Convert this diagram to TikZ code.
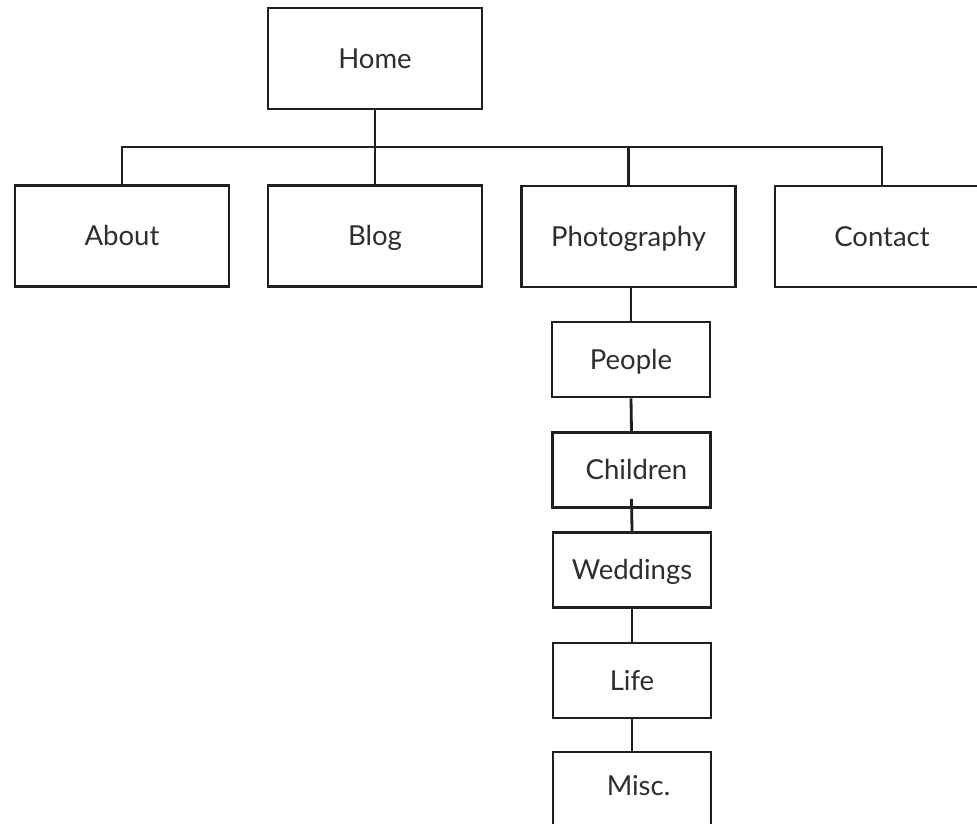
\documentclass[tikz,border=0pt]{standalone}
\usepackage{fontspec}
\setmainfont{Lato}
\begin{document}
\begin{tikzpicture}[x=1pt,y=-1pt,
  page/.style={draw=black!88,line width=2.8pt,fill=white,inner sep=0pt,
     text=black!82,font=\fontsize{27.5}{32}\selectfont,
     text height=19.5pt,text depth=0pt},
  bigbox/.style={page,minimum width=214pt,minimum height=101pt},
  subbox/.style={page,minimum width=158pt,minimum height=75pt},
  link/.style={draw=black!88,line width=2.8pt}]
\useasboundingbox (0,0) rectangle (977,823);
\clip (0,0) rectangle (977,823);
\fill[white] (0,0) rectangle (977,823);
\node[bigbox] (home) at (375,58.5) {Home};
\node[bigbox] (about) at (122,236) {About};
\node[bigbox] (blog) at (375,236) {Blog};
\node[bigbox] (photo) at (628.5,236.5) {Photography};
\node[bigbox] (contact) at (882,236.5) {Contact};
\node[subbox] (people) at (631,359.5) {People};
\node[subbox] (children) at (631.5,470) {\hspace{10pt}Children};
\node[subbox] (weddings) at (632,570) {Weddings};
\node[subbox] (life) at (632,680.5) {Life};
\node[subbox,minimum height=150pt] (misc) at (632,827) {};
\node[page,draw=none,fill=none] (misclabel) at (638.5,786) {Misc.};
\coordinate (bus) at (375,147);
\draw[link] (home.south) -- (bus);
\draw[link] (about.north) |- (bus) -| (contact.north);
\draw[link] (bus) -- (blog.north);
\draw[link] (bus) -| (photo.north);
\draw[link] (photo.south -| people.north) -- (people.north);
\draw[link] (people.south) -- (children.north);
\draw[link] ([yshift=10pt]children.south) -- (weddings.north);
\draw[link] (weddings.south) -- (life.north);
\draw[link] (life.south) -- (misc.north);
\end{tikzpicture}
\end{document}
